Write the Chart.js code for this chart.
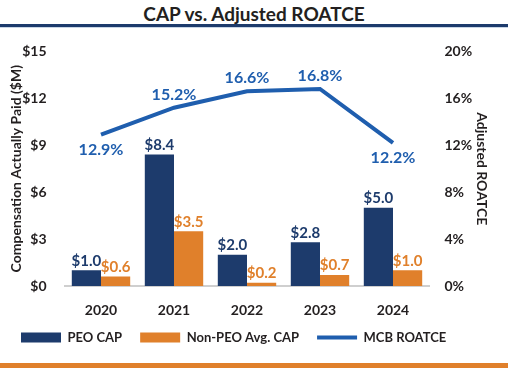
<!DOCTYPE html>
<html>
<head>
<meta charset="utf-8">
<script src="https://cdn.jsdelivr.net/npm/chart.js@4"></script>
<style>
  html, body { margin: 0; padding: 0; background: #fff; }
  #wrap { position: relative; width: 508px; height: 368px; overflow: hidden; font-family: Lato, "Open Sans", sans-serif; }
  #title { position: absolute; top: 0; left: 0; width: 508px; height: 24px; text-align: center; font-weight: 700; font-size: 19px; line-height: 28px; color: #231f20; }
  #rule { position: absolute; top: 24px; left: 0; width: 508px; height: 3px; background: #1d3b6c; border-bottom: 1px solid #c9d6e6; }
  #box { position: absolute; top: 25px; left: 0; width: 508px; height: 338px; }
  #foot { position: absolute; top: 363px; left: 0; width: 508px; height: 5px; background: #e0802b; }
</style>
</head>
<body>
<div id="wrap">
  <div id="title">CAP vs. Adjusted ROATCE</div>
  <div id="rule"></div>
  <div id="box"><canvas id="c"></canvas></div>
  <div id="foot"></div>
</div>
<script>
// data
const years = ["2020", "2021", "2022", "2023", "2024"];
const peoCap = [1.0, 8.4, 2.0, 2.8, 5.0];
const nonPeoCap = [0.6, 3.5, 0.2, 0.7, 1.0];
const roatce = [12.9, 15.2, 16.6, 16.8, 12.2];
const roatceBelow = [true, false, false, false, true];

const NAVY = "#1d3b6c";
const ORANGE = "#e0802b";
const BLUE = "#1f5eae";
const TEXT = "#231f20";
const FONT = "Lato, 'Open Sans', sans-serif";

// draws the value labels on bars and line points
const valueLabels = {
  id: "valueLabels",
  afterDatasetsDraw(chart) {
    const ctx = chart.ctx;
    ctx.save();
    ctx.textAlign = "center";
    chart.data.datasets.forEach((ds, di) => {
      const meta = chart.getDatasetMeta(di);
      meta.data.forEach((el, i) => {
        const v = ds.data[i];
        if (ds.type === "line") {
          ctx.font = "bold 16px " + FONT;
          ctx.fillStyle = BLUE;
          if (roatceBelow[i]) {
            ctx.textBaseline = "top";
            ctx.fillText(v.toFixed(1) + "%", el.x, el.y + 7);
          } else {
            ctx.textBaseline = "bottom";
            ctx.fillText(v.toFixed(1) + "%", el.x, el.y - 5);
          }
        } else {
          ctx.font = "bold 15px " + FONT;
          ctx.fillStyle = ds.backgroundColor;
          ctx.textBaseline = "bottom";
          ctx.fillText("$" + v.toFixed(1), el.x, el.y - 2);
        }
      });
    });
    ctx.restore();
  }
};

// fixed legend height, then hang the legend row a set distance under the axis line
const legendPlace = {
  id: "legendPlace",
  beforeInit(chart) {
    const fit = chart.legend.fit;
    chart.legend.fit = function () {
      fit.call(this);
      this.height = 37;
    };
  },
  afterLayout(chart) {
    const lg = chart.legend;
    lg.top = chart.chartArea.bottom + 27;
    lg.bottom = lg.top + 40;
  }
};

Chart.defaults.font.family = FONT;
Chart.defaults.color = TEXT;

new Chart(document.getElementById("c"), {
  data: {
    labels: years,
    datasets: [
      {
        type: "bar", label: "PEO CAP", data: peoCap,
        backgroundColor: NAVY, borderWidth: 0, pointStyle: "rect",
        yAxisID: "y", categoryPercentage: 0.8, barPercentage: 1.0
      },
      {
        type: "bar", label: "Non-PEO Avg. CAP", data: nonPeoCap,
        backgroundColor: ORANGE, borderWidth: 0, pointStyle: "rect",
        yAxisID: "y", categoryPercentage: 0.8, barPercentage: 1.0
      },
      {
        type: "line", label: "MCB ROATCE", data: roatce,
        borderColor: BLUE, backgroundColor: BLUE, borderWidth: 4,
        pointRadius: 0, pointStyle: "line", tension: 0,
        yAxisID: "y1"
      }
    ]
  },
  options: {
    responsive: true,
    maintainAspectRatio: false,
    animation: false,
    layout: { padding: { left: 3, right: 15, top: 25, bottom: 0 } },
    plugins: {
      tooltip: { enabled: false },
      legend: {
        position: "bottom",
        align: "start",
        labels: {
          usePointStyle: true,
          pointStyleWidth: 40,
          boxHeight: 10,
          padding: 18,
          color: TEXT,
          font: { size: 13, weight: "bold" }
        }
      }
    },
    scales: {
      x: {
        grid: { display: false, drawTicks: false },
        border: { color: "#cfcfcf", width: 2 },
        ticks: { color: TEXT, font: { size: 14, weight: "bold" }, padding: 16 },
        afterFit: (scale) => { scale.height = 40; }
      },
      y: {
        position: "left", min: 0, max: 15,
        grid: { display: false, drawTicks: false },
        border: { display: false },
        ticks: { stepSize: 3, color: TEXT, font: { size: 14, weight: "bold" }, padding: 18,
                 callback: (v) => "$" + v },
        title: { display: true, text: "Compensation Actually Paid ($M)", color: TEXT,
                 font: { size: 14, weight: "bold" }, padding: { top: 5, bottom: 0 } },
        afterFit: (scale) => { scale.width = 61.5; }
      },
      y1: {
        position: "right", min: 0, max: 20,
        grid: { display: false, drawTicks: false },
        border: { display: false },
        ticks: { stepSize: 4, color: TEXT, font: { size: 14, weight: "bold" }, padding: 15,
                 callback: (v) => v + "%" },
        title: { display: true, text: "Adjusted ROATCE", color: TEXT,
                 font: { size: 14, weight: "bold" }, padding: { top: 3, bottom: 0 } },
        afterFit: (scale) => { scale.width = 63.5; }
      }
    }
  },
  plugins: [valueLabels, legendPlace]
});
</script>
</body>
</html>
